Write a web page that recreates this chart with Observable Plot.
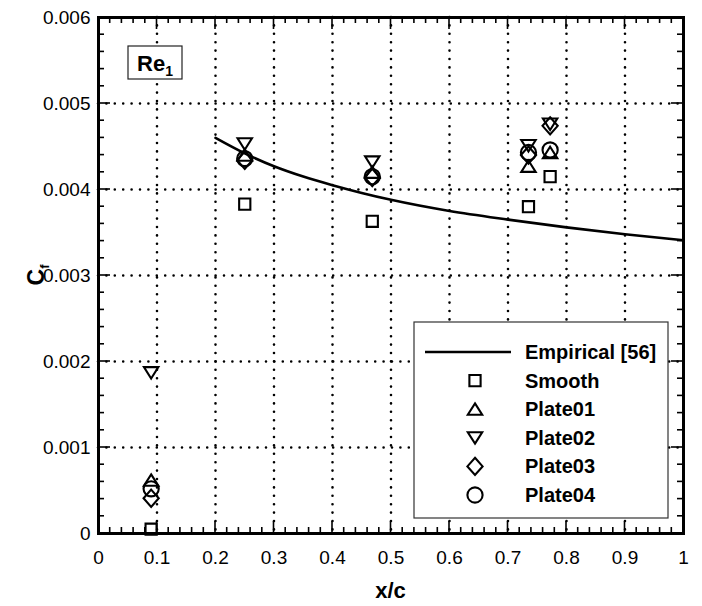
<!DOCTYPE html>
<html>
<head>
<meta charset="utf-8">
<script src="https://cdn.jsdelivr.net/npm/d3@7"></script>
<script src="https://cdn.jsdelivr.net/npm/@observablehq/plot@0.6"></script>
<style>
  body { margin: 0; background: #fff; }
  #chart { position: relative; width: 702px; height: 606px; }
</style>
</head>
<body>
<div id="chart"></div>
<script>
// Skin-friction measurements at the five streamwise stations
const stations = [0.09, 0.25, 0.468, 0.735, 0.772];
const seriesNames = ["Smooth", "Plate01", "Plate02", "Plate03", "Plate04"];
const smoothCf  = [0.00005, 0.00383, 0.00363, 0.00380, 0.00415];
const plate01Cf = [0.00062, 0.00440, 0.00420, 0.00427, 0.00443];
const plate02Cf = [0.00187, 0.00453, 0.00432, 0.00451, 0.00476];
const plate03Cf = [0.00041, 0.00434, 0.00414, 0.00440, 0.00474];
const plate04Cf = [0.00052, 0.00436, 0.00415, 0.00443, 0.00446];

// Empirical correlation curve, read at regular x/c
const empiricalX  = [0.2, 0.25, 0.3, 0.35, 0.4, 0.45, 0.5, 0.6, 0.7, 0.8, 0.9, 1.0];
const empiricalCf = [0.00460, 0.00442, 0.00427, 0.00415, 0.00405, 0.00396, 0.00388, 0.00375, 0.00365, 0.00356, 0.00348, 0.00341];

const xTickValues = [0, 0.1, 0.2, 0.3, 0.4, 0.5, 0.6, 0.7, 0.8, 0.9, 1];
const yTickValues = [0, 0.001, 0.002, 0.003, 0.004, 0.005, 0.006];
const xMinorValues = d3.range(0, 51).map(i => i / 50);
const yMinorValues = d3.range(0, 31).map(i => i * 0.0002);

const seriesValues = [smoothCf, plate01Cf, plate02Cf, plate03Cf, plate04Cf];
const records = seriesNames.flatMap((name, s) =>
  stations.map((x, i) => ({series: name, x, cf: seriesValues[s][i]})));
const empirical = empiricalX.map((x, i) => ({x, cf: empiricalCf[i]}));

// Hollow marker shapes (drawn at a fixed size)
const shapes = {
  Smooth: {draw(c) { c.rect(-5.6, -5.6, 11.2, 11.2); }},
  Plate01: {draw(c) { c.moveTo(0, -5.8); c.lineTo(7.2, 5.6); c.lineTo(-7.2, 5.6); c.closePath(); }},
  Plate02: {draw(c) { c.moveTo(0, 5.8); c.lineTo(7.2, -5.6); c.lineTo(-7.2, -5.6); c.closePath(); }},
  Plate03: {draw(c) { c.moveTo(0, -8.6); c.lineTo(7.6, 0); c.lineTo(0, 8.6); c.lineTo(-7.6, 0); c.closePath(); }},
  Plate04: {draw(c) { c.moveTo(7.6, 0); c.arc(0, 0, 7.6, 0, 2 * Math.PI); c.closePath(); }}
};

const W = 702, H = 606, mL = 98, mR = 19, mT = 17, mB = 73;
const font = "'Liberation Sans', Arial, Helvetica, sans-serif";
const dotted = {stroke: "black", strokeOpacity: 1, strokeWidth: 2.6, strokeDasharray: "0 8.4", strokeLinecap: "round"};

const chart = Plot.plot({
  width: W, height: H,
  marginLeft: mL, marginRight: mR, marginTop: mT, marginBottom: mB,
  style: {fontFamily: font, fontSize: "19px", color: "black", background: "white", overflow: "visible"},
  x: {domain: [0, 1]},
  y: {domain: [0, 0.006]},
  marks: [
    Plot.gridX(xTickValues.slice(1, -1), dotted),
    Plot.gridY(yTickValues.slice(1, -1), dotted),
    Plot.line(empirical, {x: "x", y: "cf", curve: "monotone-x", stroke: "black", strokeWidth: 2.6}),
    ...seriesNames.map(name =>
      Plot.dot(records.filter(d => d.series === name), {
        x: "x", y: "cf", r: 7, symbol: shapes[name],
        fill: "none", stroke: "black", strokeWidth: 2.1
      })),
    Plot.frame({stroke: "black", strokeWidth: 3}),
    Plot.axisX(xTickValues, {tickSize: 0, tickPadding: 17, label: null, fontSize: 19,
      tickFormat: d => String(+d.toFixed(1))}),
    Plot.axisY(yTickValues, {tickSize: 0, tickPadding: 8, label: null, fontSize: 19,
      tickFormat: d => d === 0 ? "0" : d.toFixed(3)})
  ]
});
document.getElementById("chart").append(chart);

const svg = d3.select(chart);
const sx = chart.scale("x"), sy = chart.scale("y");
const [x0, x1] = sx.range, [y0, y1] = sy.range; // y0 = bottom, y1 = top

// inward ticks on all four sides
const ticks = svg.append("g").attr("stroke", "black").attr("stroke-width", 1.6);
const isMajorX = v => xTickValues.some(t => Math.abs(t - v) < 1e-9);
const isMajorY = v => yTickValues.some(t => Math.abs(t - v) < 1e-12);
xMinorValues.forEach(v => {
  const px = sx.apply(v), len = isMajorX(v) ? 12 : 6;
  ticks.append("line").attr("x1", px).attr("x2", px).attr("y1", y0).attr("y2", y0 - len);
  ticks.append("line").attr("x1", px).attr("x2", px).attr("y1", y1).attr("y2", y1 + len);
});
yMinorValues.forEach(v => {
  const py = sy.apply(v), len = isMajorY(v) ? 12 : 6;
  ticks.append("line").attr("y1", py).attr("y2", py).attr("x1", x0).attr("x2", x0 + len);
  ticks.append("line").attr("y1", py).attr("y2", py).attr("x1", x1).attr("x2", x1 - len);
});

const boldText = (sel, size) => sel
  .style("font-family", font).style("font-weight", "bold")
  .style("font-size", size + "px").style("fill", "black");

// axis titles
const yTitle = boldText(svg.append("text"), 23)
  .attr("transform", `translate(44,${(y0 + y1) / 2}) rotate(-90)`)
  .style("text-anchor", "middle");
yTitle.append("tspan").text("C");
yTitle.append("tspan").style("font-size", "13px").attr("dy", 5).text("f");

boldText(svg.append("text"), 22)
  .attr("x", (x0 + x1) / 2).attr("y", 598)
  .style("text-anchor", "middle")
  .text("x/c");

// Reynolds-number tag
const tag = svg.append("g");
tag.append("rect").attr("x", 128).attr("y", 46).attr("width", 54).attr("height", 33)
  .attr("fill", "white").attr("stroke", "#222").attr("stroke-width", 1.2);
const tagText = boldText(tag.append("text"), 22).attr("x", 137).attr("y", 71)
  .style("text-anchor", "start");
tagText.append("tspan").text("Re");
tagText.append("tspan").style("font-size", "14px").attr("dy", 5).text("1");

// legend
const legend = svg.append("g").attr("transform", "translate(414,322)");
legend.append("rect").attr("width", 254).attr("height", 196)
  .attr("fill", "white").attr("stroke", "#333").attr("stroke-width", 1.2);
const rowY = i => 30 + i * 28.6;
const legendEntries = ["Empirical [56]", ...seriesNames];
legendEntries.forEach((label, i) => {
  const y = rowY(i);
  if (i === 0) {
    legend.append("line").attr("x1", 11).attr("x2", 97).attr("y1", y).attr("y2", y)
      .attr("stroke", "black").attr("stroke-width", 2.6);
  } else {
    const p = d3.path();
    shapes[label].draw(p);
    legend.append("path").attr("transform", `translate(61,${y})`).attr("d", p.toString())
      .attr("fill", "none").attr("stroke", "black").attr("stroke-width", 2.1);
  }
  boldText(legend.append("text"), 20).attr("x", 111).attr("y", y + 7)
    .style("text-anchor", "start")
    .text(label);
});
</script>
</body>
</html>
